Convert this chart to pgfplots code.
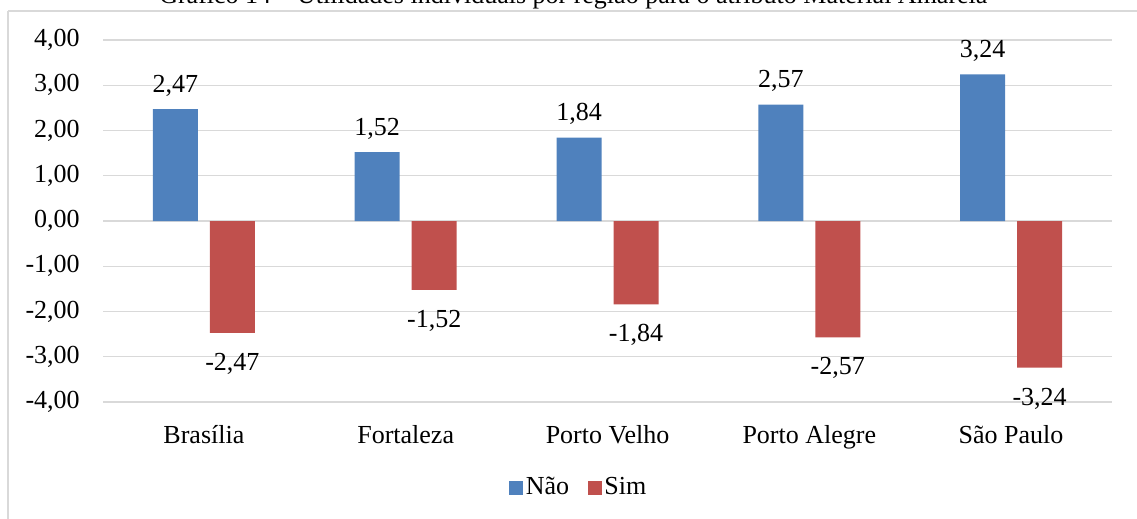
\documentclass[border=0pt]{standalone}
\usepackage{pgfplots}
\pgfplotsset{compat=1.18}
\usepackage{fontspec}
\setmainfont{Liberation Serif}
\definecolor{nao}{HTML}{4F81BD}
\definecolor{sim}{HTML}{C0504D}
\definecolor{gridc}{HTML}{D9D9D9}
\begin{document}
\fontsize{19.5pt}{23pt}\selectfont
\begin{tikzpicture}
\useasboundingbox (0,0) rectangle (852.75pt,388.5pt);
\clip (0,0) rectangle (852.75pt,388.5pt);
\draw[gridc, line width=1.1pt] (6pt,380.25pt) -- (870pt,380.25pt);
\draw[gridc, line width=1.1pt] (6pt,380.25pt) -- (6pt,-10pt);
\node[anchor=base, inner sep=0pt] at (430pt,385.5pt) {Gráfico 14 – Utilidades individuais por região para o atributo Material Amarela};
\begin{axis}[
  at={(77.25pt,87pt)}, anchor=south west,
  scale only axis,
  width=756.75pt, height=271.5pt,
  ybar=9pt, bar width=33.75pt,
  xmin=-0.5, xmax=4.5,
  ymin=-4, ymax=4,
  ytick={-4,-3,...,4},
  xtick=data,
  xticklabels={Brasília, Fortaleza, Porto Velho, Porto Alegre, São Paulo},
  major tick length=0pt,
  axis line style={draw=none},
  ymajorgrids,
  major grid style={gridc, line width=1.1pt},
  /pgf/number format/.cd, fixed, fixed zerofill, precision=2, use comma, assume math mode=true,
  /pgfplots/.cd,
  yticklabel style={anchor=east, inner sep=0pt, xshift=-17.25pt},
  xticklabel style={anchor=base, inner sep=0pt, yshift=-30.75pt},
  legend style={draw=none, fill=none, at={(0.4718,-0.2376)}, anchor=center,
    legend columns=2, /tikz/every even column/.append style={column sep=12pt},
    nodes={inner sep=2pt}},
  legend image code/.code={\fill[#1] (0pt,-5.25pt) rectangle (10.5pt,5.25pt);},
  nodes near coords={\pgfmathprintnumber[fixed,fixed zerofill,precision=2,use comma,assume math mode=true]{\pgfplotspointmeta}},
]
\addplot[fill=nao, draw=none,
  every node near coord/.append style={anchor=base, inner sep=0pt, yshift=12.75pt, text=black}]
  coordinates {(0,2.47) (1,1.52) (2,1.84) (3,2.57) (4,3.24)};
\addplot[fill=sim, draw=none,
  every node near coord/.append style={anchor=north, inner sep=0pt, yshift=-15pt, text=black}]
  coordinates {(0,-2.47) (1,-1.52) (2,-1.84) (3,-2.57) (4,-3.24)};
\legend{Não, Sim}
\end{axis}
\end{tikzpicture}
\end{document}
